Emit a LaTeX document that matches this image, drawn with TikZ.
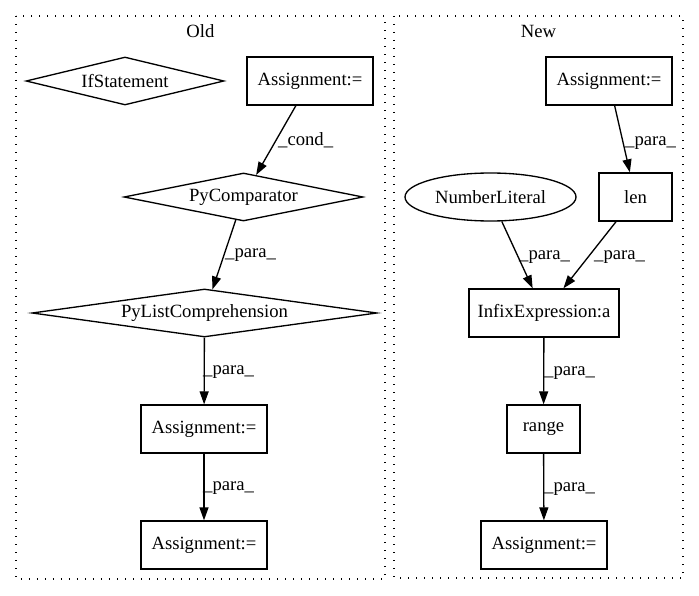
\documentclass[tikz,border=0pt]{standalone}
\usepackage{fontspec}
\setmainfont{Liberation Serif}
\usetikzlibrary{shapes.geometric,arrows.meta}
\begin{document}
\begin{tikzpicture}[x=1pt,y=-1pt,
  every node/.style={font=\fontsize{18.67}{22}\selectfont, inner sep=0pt},
  box/.style={draw, line width=1.33pt, rectangle, minimum height=48pt},
  dia/.style={draw, line width=1.33pt, diamond, minimum height=48pt},
  ell/.style={draw, line width=1.33pt, ellipse, minimum height=48pt},
  conn/.style={draw, line width=1.33pt, -{Triangle[length=13pt,width=9pt]}},
  lbl/.style={anchor=west},
  cluster/.style={draw, line width=1.33pt, dash pattern=on 1.33pt off 6.67pt}
]
\useasboundingbox (0,0) rectangle (699,596);
% clusters
\draw[cluster] (16,16) rectangle (385,579);
\draw[cluster] (394,16) rectangle (683,578);
\node (told) at (200.5,31) {Old};
\node (tnew) at (538.5,31) {New};
% Old
\node[dia, aspect=4.1, minimum width=198pt] (oif) at (125,81) {IfStatement};
\node[box, minimum width=126pt] (oa1) at (310,81) {Assignment:=};
\node[dia, aspect=5, minimum width=239pt] (opc) at (243.5,197) {PyComparator};
\node[dia, aspect=7.2, minimum width=345pt] (olc) at (204.5,313) {PyListComprehension};
\node[box, minimum width=126pt] (oa2) at (204,429) {Assignment:=};
\node[box, minimum width=126pt] (oa3) at (204,545) {Assignment:=};
% New
\node[box, minimum width=126pt] (na1) at (609,81) {Assignment:=};
\node[ell, minimum width=171pt] (nnl) at (490.5,197) {NumberLiteral};
\node[box, minimum width=73pt] (nlen) at (635.5,197) {len};
\node[box, minimum width=150pt] (ninf) at (544,313) {InfixExpression:a};
\node[box, minimum width=73pt] (nrng) at (543.5,429) {range};
\node[box, minimum width=126pt] (na2) at (544,545) {Assignment:=};
% edges
\draw[conn] (oa1) -- (opc);
\draw[conn] (opc) -- (olc);
\draw[conn] (olc) -- (oa2);
\draw[conn] (oa2) -- (oa3);
\draw[conn] (na1) -- (nlen);
\draw[conn] (nnl) -- (ninf);
\draw[conn] (nlen) -- (ninf);
\draw[conn] (ninf) -- (nrng);
\draw[conn] (nrng) -- (na2);
% labels
\node[lbl] (l1) at (278,140) {\_cond\_};
\node[lbl] (l2) at (225,255) {\_para\_};
\node[lbl] (l3) at (203,372) {\_para\_};
\node[lbl] (l4) at (203,488) {\_para\_};
\node[lbl] (l5) at (625,143) {\_para\_};
\node[lbl] (l6) at (519,257) {\_para\_};
\node[lbl] (l7) at (594,257) {\_para\_};
\node[lbl] (l8) at (544,373) {\_para\_};
\node[lbl] (l9) at (544,489) {\_para\_};
\end{tikzpicture}
\end{document}
